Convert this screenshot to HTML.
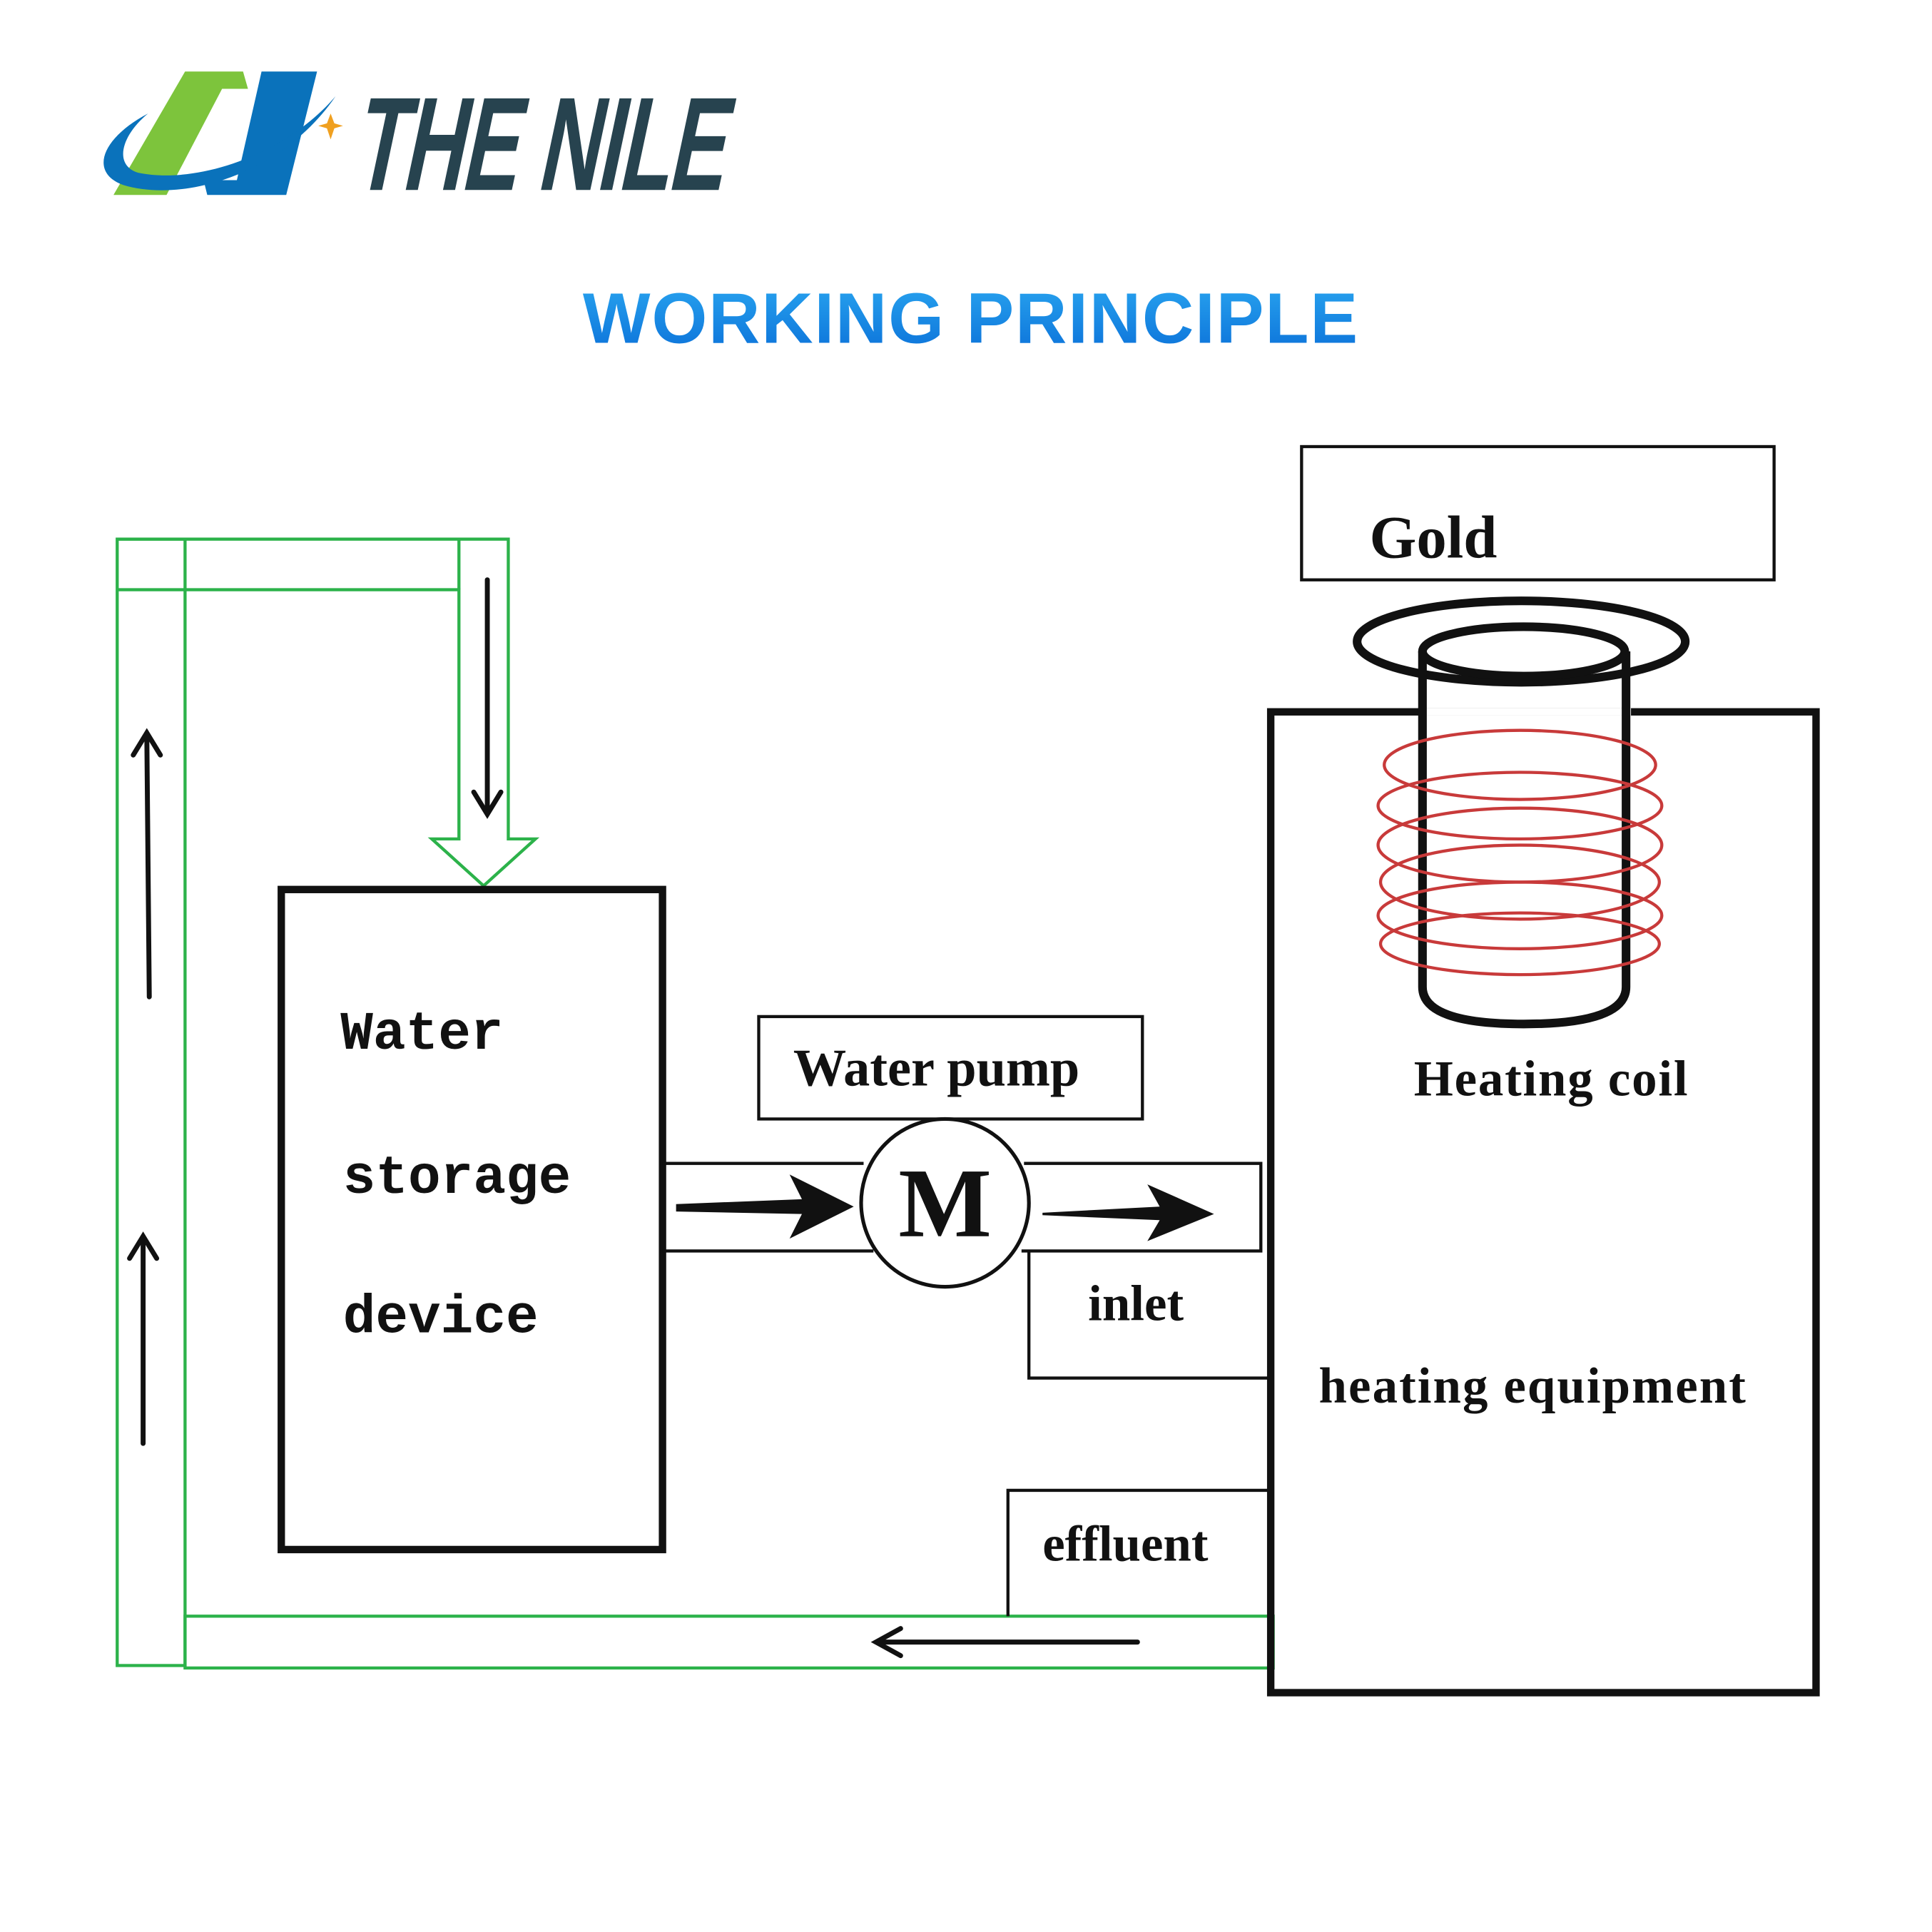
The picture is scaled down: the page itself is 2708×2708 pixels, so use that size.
<!DOCTYPE html>
<html><head><style>html,body{margin:0;padding:0;background:#fff}svg{display:block}</style></head>
<body>
<svg width="2708" height="2708" viewBox="0 0 1566 1566" xmlns="http://www.w3.org/2000/svg">
<defs>
<linearGradient id="tg" x1="0" y1="0" x2="0" y2="1"><stop offset="0" stop-color="#2aa6f0"/><stop offset="1" stop-color="#0a6fd8"/></linearGradient>
</defs>
<rect width="1566" height="1566" fill="#fff"/>
<!-- logo -->
<polygon points="150,58 197,58 201,72 180,72 135,158 92,158" fill="#7dc43c"/>
<polygon points="212,58 257,58 232,158 168,158 165,146 192,146" fill="#0a72bb"/>
<path d="M120,92 C82,112 72,140 100,150 C150,165 230,140 272,78 C232,125 160,150 112,140 C92,134 98,110 120,92Z" fill="#0a72bb"/>
<polygon points="268,92 271,100 278,102 271,104 268,113 265,104 258,102 265,100" fill="#f0a020"/>
<text x="0" y="0" transform="translate(284,154) skewX(-12) scale(0.63,1)" font-family="Liberation Sans,sans-serif" font-weight="bold" font-size="108" fill="#27434f" letter-spacing="-2">THE NILE</text>
<!-- title -->
<text x="787" y="278" text-anchor="middle" font-family="Liberation Sans,sans-serif" font-weight="bold" font-size="58" fill="url(#tg)" letter-spacing="1">WORKING PRINCIPLE</text>
<!-- green pipes -->
<g fill="none" stroke="#2cb24a" stroke-width="2.5">
<rect x="95" y="437" width="55" height="913"/>
<path d="M95,437 H412 V680 H434 L392,718 L350,680 H372 V478 H95"/>
<path d="M372,437 V478"/>
<rect x="150" y="1310" width="882" height="42"/>
</g>
<!-- thin arrows -->
<g stroke="#111" stroke-width="4" fill="none" stroke-linecap="round">
<path d="M121,808 L119,596"/><path d="M108,612 L119,594 L130,612"/>
<path d="M116,1170 L116,1004"/><path d="M105,1020 L116,1002 L127,1020"/>
<path d="M395,470 L395,658"/><path d="M384,642 L395,660 L406,642"/>
<path d="M922,1331 L712,1331"/><path d="M730,1320 L710,1331 L730,1342"/>
</g>
<!-- water storage -->
<rect x="228" y="721" width="309" height="535" fill="none" stroke="#111" stroke-width="6"/>
<g font-family="Liberation Mono,monospace" font-weight="bold" font-size="44" fill="#111">
<text x="276" y="850">Water</text>
<text x="278" y="967">storage</text>
<text x="278" y="1080">device</text>
</g>
<!-- pipes to pump -->
<g stroke="#111" stroke-width="2.5" fill="none">
<path d="M537,943 H700 M537,1014 H708"/>
<path d="M830,943 H1022 V1014 H828"/>
<rect x="615" y="824" width="311" height="83"/>
<path d="M834,1014 V1117 H1030"/>
<path d="M817,1310 V1208 H1030"/>
</g>
<circle cx="766" cy="975" r="68" fill="#fff" stroke="#111" stroke-width="3"/>
<text x="766" y="1002" text-anchor="middle" font-family="Liberation Serif,serif" font-weight="bold" font-size="80" fill="#111">M</text>
<polygon points="548,976 650,972 640,952 692,978 640,1004 650,984 548,982" fill="#111"/>
<polygon points="845,983 940,978 930,960 984,984 930,1006 940,989 845,985" fill="#111"/>
<g font-family="Liberation Serif,serif" font-weight="bold" fill="#111">
<text x="643" y="880" font-size="43">Water pump</text>
<text x="882" y="1070" font-size="41">inlet</text>
<text x="845" y="1265" font-size="41">effluent</text>
</g>
<!-- heating equipment -->
<rect x="1030" y="577" width="442" height="795" fill="none" stroke="#111" stroke-width="6"/>
<rect x="1055" y="362" width="383" height="108" fill="none" stroke="#111" stroke-width="2.5"/>
<text x="1110" y="452" font-family="Liberation Serif,serif" font-weight="bold" font-size="49" fill="#111">Gold</text>
<ellipse cx="1233" cy="520" rx="133" ry="33" fill="none" stroke="#111" stroke-width="7"/>
<rect x="1150" y="574" width="172" height="6" fill="#fff"/>
<path d="M1153,528 V800 Q1153,830 1235,830 Q1318,830 1318,800 V528" fill="none" stroke="#111" stroke-width="7"/>
<ellipse cx="1235" cy="528" rx="82" ry="20" fill="none" stroke="#111" stroke-width="7"/>
<g fill="none" stroke="#c83a3a" stroke-width="2.5">
<ellipse cx="1232" cy="620" rx="110" ry="28"/>
<ellipse cx="1232" cy="653" rx="115" ry="27"/>
<ellipse cx="1232" cy="685" rx="115" ry="30"/>
<ellipse cx="1232" cy="715" rx="113" ry="30"/>
<ellipse cx="1232" cy="742" rx="115" ry="27"/>
<ellipse cx="1232" cy="765" rx="113" ry="25"/>
</g>
<g font-family="Liberation Serif,serif" font-weight="bold" font-size="41" fill="#111">
<text x="1146" y="888" textLength="222">Heating coil</text>
<text x="1069" y="1137" textLength="346">heating equipment</text>
</g>
</svg>
</body></html>
